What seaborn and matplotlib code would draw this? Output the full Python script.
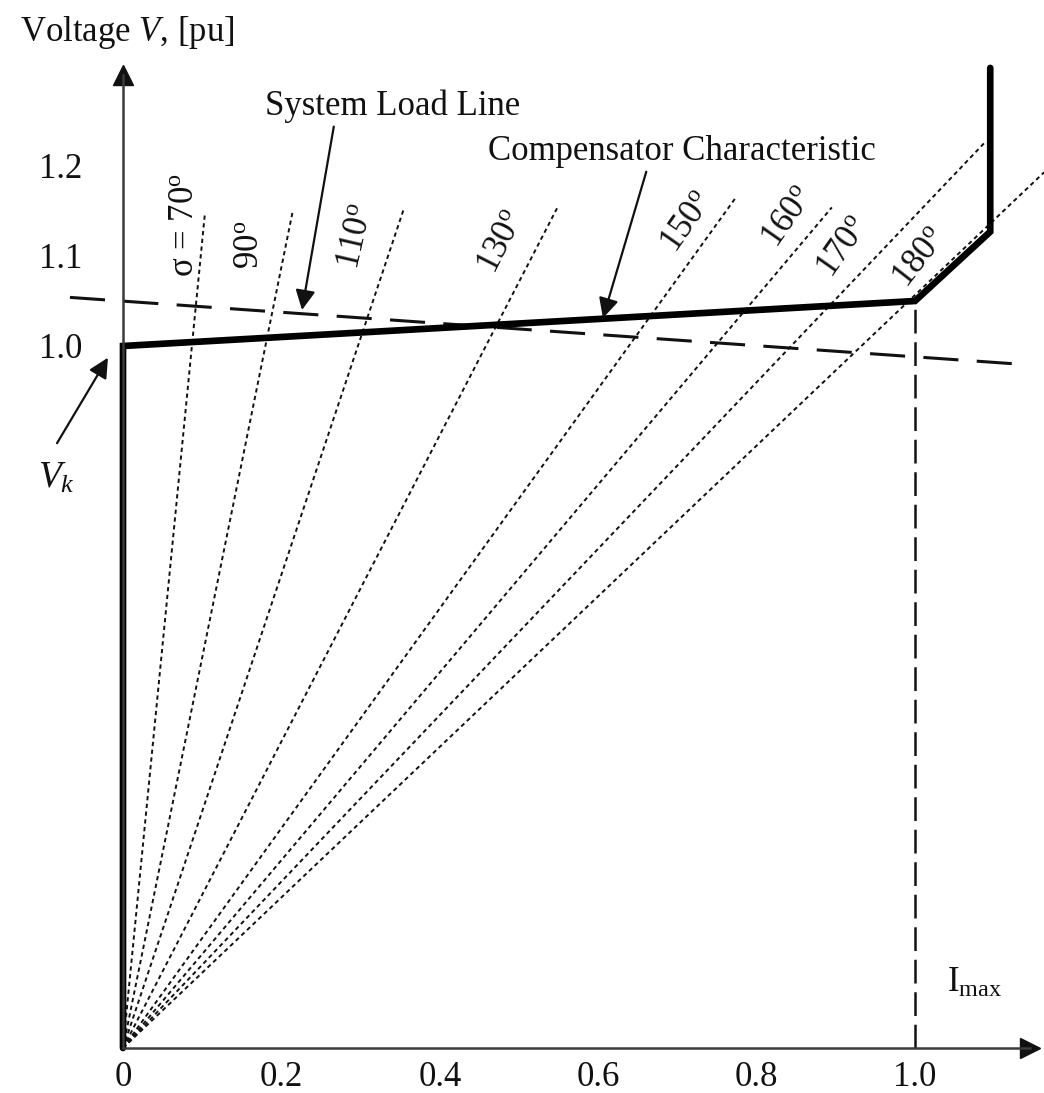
import numpy as np
import pandas as pd
import matplotlib
matplotlib.use("Agg")
import matplotlib.pyplot as plt
import seaborn as sns

# ---- data (current I in pu, voltage V in pu) ----
v_axis_min = 0.22          # voltage at the axes' crossing (axis is truncated)

# compensator V-I characteristic (thick polyline)
comp_I = [0.0, 0.0, 1.0, 1.095, 1.095]
comp_V = [v_axis_min, 1.0, 1.05, 1.127, 1.309]

# system load line (long dashes)
load_I = [-0.067, 1.145]
load_V = [1.054, 0.979]

# rated current marker
i_max = 1.0
i_max_V = 1.05

# thyristor conduction-angle rays from the origin: labels and end points
sigma_labels = ["70", "90", "110", "130", "150", "160", "170", "180"]
sigma_end_I = [0.1035, 0.2146, 0.3548, 0.548, 0.773, 0.895, 1.088, 1.163]
sigma_end_V = [1.148, 1.151, 1.153, 1.153, 1.164, 1.154, 1.226, 1.193]

# label anchor points (I, V) and rotations for the ray labels
sigma_lab_I = [0.078, 0.160, 0.295, 0.4785, 0.712, 0.840, 0.909, 1.006]
sigma_lab_V = [1.134, 1.112, 1.121, 1.116, 1.138, 1.143, 1.110, 1.098]
sigma_lab_rot = [90, 90, 77, 63, 55, 55, 55, 52]

x_ticks = [0.0, 0.2, 0.4, 0.6, 0.8, 1.0]
x_tick_labels = ["0", "0.2", "0.4", "0.6", "0.8", "1.0"]
y_ticks = [1.0, 1.1, 1.2]
y_tick_labels = ["1.0", "1.1", "1.2"]

# ---- style ----
sns.set_theme(style="white")
plt.rcParams["font.family"] = ["Liberation Serif", "DejaVu Serif"]
plt.rcParams["mathtext.fontset"] = "custom"
plt.rcParams["mathtext.rm"] = "Liberation Serif"
plt.rcParams["mathtext.it"] = "Liberation Serif:italic"
FS = 25
INK = "#111111"

W, H = 1044, 1093
fig = plt.figure(figsize=(W / 100, H / 100), dpi=100)
ox, oy = 123, 1048          # axes crossing
ax = fig.add_axes([ox / W, (H - oy) / H, (1030 - ox) / W, (oy - 75) / H])
ax.set_xlim(0, 907 / 792)
ax.set_ylim(v_axis_min, v_axis_min + 973 / 900)

for side in ("top", "right"):
    ax.spines[side].set_visible(False)
for side in ("left", "bottom"):
    ax.spines[side].set_color("#3a3a3a")
    ax.spines[side].set_linewidth(1.8)

# arrow heads at the ends of both axes
ax.plot(1, v_axis_min, ">", color=INK, ms=14, transform=ax.get_yaxis_transform(),
        clip_on=False)
ax.plot(0, 1, "^", color=INK, ms=14, transform=ax.get_xaxis_transform(),
        clip_on=False)

ax.set_xticks(x_ticks, x_tick_labels)
ax.set_yticks(y_ticks, y_tick_labels)
ax.tick_params(axis="both", length=0, labelsize=FS, colors=INK)
ax.tick_params(axis="x", pad=9)
ax.tick_params(axis="y", pad=29)
ax.grid(False)

# conduction-angle rays
for lab, xe, ye in zip(sigma_labels, sigma_end_I, sigma_end_V):
    ray = pd.DataFrame({"I": [0.0, xe], "V": [v_axis_min, ye]})
    sns.lineplot(data=ray, x="I", y="V", ax=ax, color=INK, lw=1.4,
                 linestyle=(0, (2.2, 1.8)), sort=False, estimator=None,
                 clip_on=False)

for i, (lab, xl, yl, rot) in enumerate(zip(sigma_labels, sigma_lab_I,
                                           sigma_lab_V, sigma_lab_rot)):
    txt = ("σ = " if i == 0 else "") + lab + r"$^{\mathrm{o}}$"
    ax.text(xl, yl, txt, fontsize=FS, rotation=rot, ha="center", va="center",
            color=INK, rotation_mode="anchor")

# system load line
load = pd.DataFrame({"I": load_I, "V": load_V})
sns.lineplot(data=load, x="I", y="V", ax=ax, color=INK, lw=2.2,
             linestyle=(0, (11.5, 6.0)), sort=False, estimator=None,
             clip_on=False)

# I_max marker
imax = pd.DataFrame({"I": [i_max, i_max], "V": [v_axis_min, i_max_V]})
sns.lineplot(data=imax, x="I", y="V", ax=ax, color=INK, lw=1.8,
             linestyle=(0, (9.5, 3.5)), sort=False, estimator=None)

# compensator characteristic
comp = pd.DataFrame({"I": comp_I, "V": comp_V})
sns.lineplot(data=comp, x="I", y="V", ax=ax, color="black", lw=4.8,
             sort=False, estimator=None, clip_on=False,
             solid_joinstyle="miter")

ax.set_xlabel("")
ax.set_ylabel("")

arrow = dict(arrowstyle="-|>", mutation_scale=30, lw=1.6, color=INK,
             shrinkA=0, shrinkB=0)

ax.annotate("System Load Line", xy=(0.226, 1.040), xytext=(0.341, 1.266),
            fontsize=FS, ha="center", va="center", color=INK,
            arrowprops=dict(arrow, relpos=(0.27, 0.0)), annotation_clip=False)
ax.annotate("Compensator Characteristic", xy=(0.606, 1.031),
            xytext=(0.706, 1.2156), fontsize=FS, ha="center", va="center",
            color=INK, arrowprops=dict(arrow, relpos=(0.41, 0.0)),
            annotation_clip=False)
ax.annotate("", xy=(-0.019, 0.987), xytext=(-0.0833, 0.892),
            arrowprops=arrow, annotation_clip=False)
ax.text(-0.0846, 0.853, r"$V_k$", fontsize=FS + 2, ha="center", va="center",
        color=INK)
ax.text(1.076, 0.292, r"I$_{\mathrm{max}}$", fontsize=FS, ha="center",
        va="center", color=INK)
ax.text(0.006, 1.348, r"Voltage $V$, [pu]", fontsize=FS, ha="center",
        va="center", color=INK, clip_on=False)

fig.savefig("out.png", dpi=100)
